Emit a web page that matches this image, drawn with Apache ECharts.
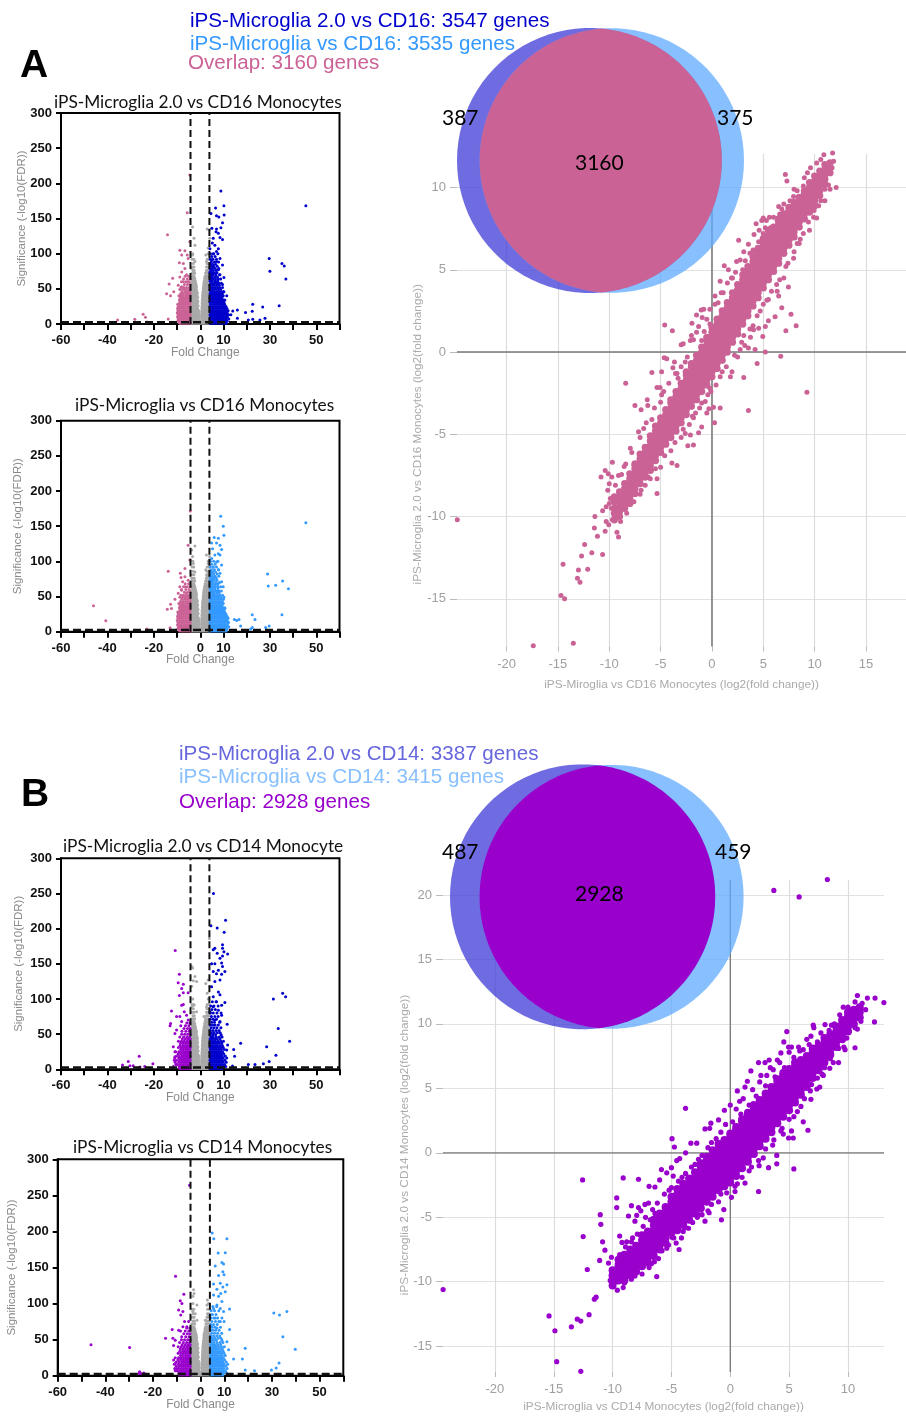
<!DOCTYPE html>
<html><head><meta charset="utf-8">
<style>html,body{margin:0;padding:0;background:#fff}#c{width:906px;height:1416px}</style>
<script src="https://cdn.jsdelivr.net/npm/echarts@6/dist/echarts.min.js"></script>
</head><body><div id="c"></div>
<script>
/* ---------- venn set sizes ---------- */
const vennCountsA = [387, 3160, 375];
const vennCountsB = [487, 2928, 459];
/* ---------- axis tick values ---------- */
const volcanoXTicks = [-60,-50,-40,-30,-20,-10,0,10,20,30,40,50,60];
const volcanoXLabels = [-60,-40,-20,0,10,30,50];
const volcanoYTicks = [0,50,100,150,200,250,300];
const scatterAX = [-20,-15,-10,-5,0,5,10,15];
const scatterAY = [-15,-10,-5,0,5,10];
const scatterBX = [-20,-15,-10,-5,0,5,10];
const scatterBY = [-15,-10,-5,0,5,10,15,20];
/* ---------- volcano dense clouds, rows of [y,[x...]] ---------- */
const grayRows = [
[1,[-3.8,-3.1,-2.4,-1.7,-1,-.4,.3,1,1.7,2.4,3.1,3.8]],[3,[-3.5,-2.8,-2.1,-1.4,-.7,-.2,.2,.7,1.4,2.1,2.8,3.5]],
[5,[-3.8,-3.1,-2.4,-1.7,-1,-.4,.4,1,1.7,2.4,3.1,3.8]],[8,[-3.5,-2.8,-2.1,-1.4,-.7,.6,1.4,2.1,2.8,3.5]],
[11,[-3.8,-3.1,-2.4,-1.7,-1,-.5,.5,1,1.7,2.4,3.1,3.8]],[14,[-3.5,-2.8,-2.1,-1.4,-.7,.6,1.4,2.1,2.8,3.5]],
[17,[-3.8,-3.1,-2.4,-1.7,-1.1,-.6,.6,1.1,1.7,2.4,3.1,3.8]],[20,[-3.5,-2.8,-2.1,-1.4,-.8,.7,1.4,2.1,2.8,3.5]],
[23,[-3.8,-3.1,-2.4,-1.7,-1.2,.7,1.2,1.7,2.4,3.1,3.8]],[26,[-3.5,-2.8,-2.1,-1.5,-.9,.8,1.5,2.1,2.8,3.5]],
[29,[-3.8,-3.1,-2.4,-1.8,-1.2,.8,1.2,1.8,2.4,3.1,3.8]],[32,[-3.5,-2.8,-2.1,-1.6,-1,.9,1.6,2.1,2.8,3.5]],
[35,[-3.8,-3.1,-2.4,-1.8,-1.3,.9,1.3,1.8,2.4,3.1,3.8]],[38,[-3.5,-2.8,-2.2,-1.7,-1.1,1,1.6,2.2,2.8,3.5]],
[41,[-3.8,-3.1,-2.5,-1.9,-1.4,1,1.4,1.9,2.5,3.1,3.8]],[44,[-3.5,-2.8,-2.2,-1.7,-1.2,1.1,1.7,2.2,2.8,3.5]],
[47,[-3.8,-3.1,-2.5,-2,-1.5,1.2,1.6,2.1,2.6,3.2,3.8]],[50,[-3.5,-2.8,-2.2,-1.7,1.3,1.8,2.4,3,3.6]],
[53,[-3.7,-3.1,-2.5,-2,-1.6,1.4,1.9,2.5,3.1,3.8]],[56,[-3.4,-2.8,-2.2,-1.8,1.5,2.1,2.7,3.3,3.9]],
[59,[-3.7,-3.1,-2.5,-2,1.6,2.2,2.8,3.4]],[62,[-3.4,-2.8,-2.2,1.8,2.4,3,3.6]],[65,[-3.7,-3,-2.4,1.9,2.5,3.1,3.8]],
[68,[-3.3,-2.7,2.1,2.6,3.2,3.8]],[72,[-3.6,-2.9,-2.4,2.3,2.8,3.5]],[76,[-3.1,-2.6,2.6,3,3.7]],[81,[-3.4,-2.7,2.7,3.2,3.9]],
[86,[-3,3.5,2.9]],[92,[-3.5,-2.8,3,3.8]],[100,[-3.2,3.4]]];
const upRowsA = [
[1,[4.2,5,5.9,6.8,7.7,8.6,9.5,10.3,11.2]],[4,[4.4,5.3,6.2,7.1,8,8.9,9.8,10.7,11.6]],
[7,[4.2,5,5.9,6.8,7.7,8.6,9.5,10.4,11.3,12.3]],[10,[4.4,5.3,6.2,7.1,8,8.9,9.8,10.7,11.7]],
[13,[4.2,5,5.9,6.8,7.7,8.6,9.5,10.4,11.3,12.2]],[16,[4.4,5.3,6.2,7.1,8,8.9,9.8,10.7,11.6]],
[19,[4.2,5,5.9,6.8,7.7,8.6,9.5,10.4,11.2,12]],[22,[4.4,5.3,6.2,7.1,8,8.9,9.8,10.7,11.5]],
[25,[4.2,5,5.9,6.8,7.7,8.6,9.5,10.3,11.1]],[28,[4.4,5.3,6.2,7.1,8,8.9,9.7,10.5]],
[31,[4.2,5,5.9,6.8,7.7,8.6,9.4,10.2]],[34,[4.4,5.3,6.2,7.1,8,8.9,9.8,10.6]],
[37,[4.2,5,5.9,6.8,7.7,8.6,9.4]],[40,[4.4,5.3,6.2,7.1,8,8.9,9.9]],
[43,[4.2,5,5.9,6.8,7.7,8.5,9.5]],[46,[4.4,5.3,6.2,7.2,8.2,9.2,10]],
[49,[4.2,5,6,7,7.9,8.8]],[52,[4.4,5.4,6.4,7.4,8.4,9.6]],
[55,[4.2,5,6,7.1,8.2]],[58,[4.5,5.4,6.3,7.3,8,9.1]],[61,[4.2,5.2,6.3,7.6]],[64,[4.6,5.5,6.6,7.8,8.8]],
[67,[4.2,5.1,6.2,7.4]],[70,[4.5,5.4,6.7,8.3]],[73,[4.2,5,6,7.2]],[76,[4.6,5.6,6.9]],[79,[4.2,5.2,6.4,8]],
[82,[4.7,5.8,7.3]],[85,[4.3,5.3,6.6]],[88,[4.8,6.1,7.9]],[92,[4.3,5.5,7]],[96,[4.9,6.4]],[100,[4.4,5.8,7.6]]];
const downRowsA = [
[1,[-4.3,-5.2,-6.1,-7,-7.9,-8.8]],[4,[-4.5,-5.4,-6.3,-7.2,-8.1,-9,-9.7]],
[7,[-4.3,-5.2,-6.1,-7,-7.9,-8.8,-9.5]],[10,[-4.5,-5.4,-6.3,-7.2,-8.1,-9,-9.8]],
[13,[-4.3,-5.2,-6.1,-7,-7.9,-8.8,-9.6]],[16,[-4.5,-5.4,-6.3,-7.2,-8.1,-9,-9.9]],
[19,[-4.3,-5.2,-6.1,-7,-7.9,-8.8,-9.6]],[22,[-4.5,-5.4,-6.3,-7.2,-8.1,-9,-9.8]],
[25,[-4.3,-5.2,-6.1,-7,-7.9,-8.8,-9.5]],[28,[-4.5,-5.4,-6.3,-7.2,-8.1,-9,-9.7]],
[31,[-4.3,-5.2,-6.1,-7,-7.9,-8.8]],[34,[-4.5,-5.4,-6.3,-7.2,-8.1,-9]],
[37,[-4.3,-5.2,-6.1,-7,-7.9,-8.7]],[40,[-4.5,-5.4,-6.3,-7.3,-8.3,-9.2]],
[43,[-4.3,-5.3,-6.3,-7.4,-8.5]],[46,[-4.6,-5.6,-6.7,-7.9]],[49,[-4.3,-5.3,-6.4,-7.6,-8.8]],[52,[-4.7,-5.9,-7.1,-8.3]],
[56,[-4.4,-5.5,-6.8]],[60,[-4.8,-6.2,-8.1]],[64,[-4.4,-5.6,-7.2]],[68,[-5,-6.5]]];
const upRowsB = [
[1,[4.2,5,5.9,6.8,7.7,8.6,9.4]],[4,[4.4,5.3,6.2,7.1,8,8.9,9.9,11]],
[7,[4.2,5,5.9,6.8,7.7,8.6,9.5,10.5]],[10,[4.4,5.3,6.2,7.1,8,8.9,9.8,11.2]],
[13,[4.2,5,5.9,6.8,7.7,8.6,9.5,10.6]],[16,[4.4,5.3,6.2,7.1,8,8.9,9.9,11.4]],
[19,[4.2,5,5.9,6.8,7.7,8.6,9.5,10.8]],[22,[4.4,5.3,6.2,7.1,8,9,10.1]],
[25,[4.2,5,5.9,6.8,7.7,8.6,9.6]],[28,[4.4,5.3,6.2,7.1,8.1,9.1,10.4]],
[31,[4.2,5,5.9,6.8,7.8,8.8,9.9]],[34,[4.4,5.3,6.3,7.3,8.4,9.5]],
[37,[4.2,5.1,6,7,8,9.2]],[40,[4.5,5.5,6.5,7.6,8.8,10]],[43,[4.2,5.2,6.2,7.3,8.5]],
[46,[4.6,5.6,6.9,8.2,9.4]],[49,[4.3,5.4,6.6,9]],[52,[4.8,6,7.4,8.6]],[55,[4.3,5.5,6.8,8.1]],
[59,[4.7,5.9,7.2,8.9]],[63,[4.3,5.3,6.4,7.8]],[67,[4.9,6.1,8.4]],[71,[4.3,5.5,7]],[75,[4.8,6.3,7.7]],[80,[4.4,5.6,7.2,9]],[85,[5,6.5]],[90,[4.5,5.9,7.7]],[96,[5.2,6.8]]];
const downRowsB = [
[1,[-4.3,-5.2,-6.1,-7,-7.9,-8.8]],[4,[-4.5,-5.4,-6.3,-7.2,-8.1,-9.1]],
[7,[-4.3,-5.2,-6.1,-7,-7.9,-8.8,-9.9]],[10,[-4.5,-5.4,-6.3,-7.2,-8.1,-9.2,-10.8]],
[13,[-4.3,-5.2,-6.1,-7,-7.9,-8.9,-10.2]],[16,[-4.5,-5.4,-6.3,-7.2,-8.2,-9.3,-11]],
[19,[-4.3,-5.2,-6.1,-7,-7.9,-9,-10.2]],[22,[-4.5,-5.4,-6.3,-7.2,-8.3,-9.5]],
[25,[-4.3,-5.2,-6.1,-7.1,-8.1,-9.2,-10.6]],[28,[-4.5,-5.4,-6.3,-7.3,-8.4]],
[31,[-4.3,-5.2,-6.2,-7.2,-8.2,-9.4]],[34,[-4.5,-5.5,-6.5,-7.5,-8.7]],
[37,[-4.3,-5.3,-6.3,-7.4,-8.5]],[40,[-4.6,-5.7,-6.9,-8.1,-9.4]],
[43,[-4.3,-5.2,-6.4,-7.7]],[46,[-4.6,-5.8,-7.2,-8.8]],[50,[-4.3,-5.4,-6.7,-8]],[54,[-4.8,-6.2,-7.9]],[58,[-4.4,-5.5,-7]],[62,[-4.9,-6.4,-8.4]],[66,[-4.5,-5.8]]];
/* ---------- volcano sparse marks, [fold change, significance] ---------- */
const up1 = [[45.5,168],[29.7,93],[30,75],[35.2,86],[36.2,82.5],[36.9,64],[34,26],[27.9,8],[26.9,24],[22.6,28],[22.4,18],[19.5,16.5],[22.6,6.6],[20.7,5.7],[25.7,5.7],[16,20],[16,8],[14,18.5],[13.2,13],[11.4,10.4],[8.9,189],[10.2,168],[6.6,165],[4.6,157],[10.3,155],[8,152],[7,154],[9.6,144],[5,136],[8.9,137],[7,135],[6.8,131],[7.8,129],[5.6,122],[8.5,123],[9.6,120],[5.2,115],[6.3,112],[7.8,107],[4.2,107],[5.6,100],[7,103],[8.5,93],[4.9,91],[7,89],[9.6,84],[5.6,81.5],[7.8,77],[4.2,74],[6.3,72],[8.5,70],[10.2,66],[4.9,62.5],[7,60],[9.6,56],[10.2,46],[11.4,40]];
const down1 = [[-4.5,212],[-5.6,158],[-14.1,127],[-8.8,105],[-6.6,104],[-5.6,98],[-8,98],[-5.2,93],[-9,87],[-7.3,86],[-11.9,65],[-13.4,57],[-14.5,43],[-11.4,46],[-12.8,40],[-4.5,117],[-35.6,5.7],[-28.2,6.6],[-24.6,14],[-23.6,9.5],[-13.8,7],[-23,3],[-8,74],[-6.6,79],[-8.8,67],[-7.3,60],[-5.9,70],[-9.5,55],[-5.2,60],[-8,53]];
const gray1 = [[-3.3,138],[-2.7,122],[-2.3,112],[-3.3,98],[3,135],[3.9,134],[4.1,122],[3.4,108],[2.4,98],[-2.3,89],[2.7,89],[-3.7,79],[3.7,74]];
const up2 = [[45.5,155],[29,82],[29.3,65],[32.5,66],[35.5,72],[38,61],[35.2,24],[29.7,8],[28.2,6],[23.6,17.5],[22.4,24],[22.4,6],[21.7,4],[17.4,8],[16.7,17.5],[14.7,17.5],[15.7,16],[11.4,16],[8.8,164],[9.9,150],[10.2,137],[6,134],[7.8,133],[4.9,126],[7,126],[8.5,123],[9.2,117],[5.3,118],[7.8,111],[6.3,109],[8.5,109],[4.9,104],[7,99],[9.2,95],[5.6,92],[7.8,88],[4.5,85],[8.5,83],[6.3,78],[9.2,71],[4.9,71],[7.8,69],[9.9,64],[5.6,64],[10.2,49],[10.6,33]];
const down2 = [[-46,37],[-40.7,15.6],[-23,4],[-13,5.7],[-13.8,86],[-12.8,39],[-14.2,32],[-12.4,33],[-8.3,77],[-6.6,90],[-8.6,83],[-10.9,46],[-5.2,123],[-4.5,102],[-4.3,171.5],[-6.6,78],[-7.6,71],[-8.8,64],[-8,59],[-6.6,64],[-5.2,73],[-9.5,54.5],[-7.3,52],[-5.9,54.5]];
const gray2 = [[-2.3,122],[-3,97],[-3.3,107],[-3.7,116],[2.7,109],[3.4,97],[2.4,88],[4,107],[3,78],[-2.3,85],[-3.7,76],[3.9,92]];
const up3 = [[5.7,250],[10.9,212],[4.6,204],[7.3,201],[10.3,195],[9.6,177],[9.6,172],[6.3,172],[10.2,167],[11.8,164],[7.3,165],[5.6,170],[8.5,158],[9.6,161],[4.9,150],[6.3,150],[9.2,151],[9.6,146],[7.8,141],[10.6,139],[7,136],[9.2,135],[5.6,139],[8.5,127],[6.3,125],[4.9,117.5],[7.8,110],[8.5,106],[5.6,103],[7,96],[10.6,95],[9.2,91],[5.6,89],[7.8,84],[4.2,82],[9.2,77],[6.3,70],[8.5,68],[11.6,64],[35.5,108],[36.8,103],[31.5,100],[33.6,58],[38.5,40],[28.6,32],[32.6,20],[29.7,11],[27.2,8],[23.6,7],[20.7,7],[17.4,37],[14.4,28],[14.8,18.5],[13.9,4.7],[11.4,27.5],[11.8,34.6]];
const down3 = [[-10.8,169],[-9,135],[-9.5,123],[-7.3,121],[-8,115],[-5.2,109],[-9,105],[-7.3,109],[-12.4,83],[-8,91],[-7.3,92],[-12.8,65],[-13,62],[-10.2,75],[-6.9,82],[-8.8,75],[-10.9,51],[-10.2,56],[-8,68],[-5.9,77],[-5.2,70],[-11.6,32],[-10.9,25],[-10.9,18],[-11.2,13],[-11.6,4],[-10.5,7],[-26.3,18.5],[-31,11],[-33.5,6],[-30.3,5],[-28.9,5],[-26,3.3],[-23.9,4],[-20.4,8]];
const gray3 = [[-3.7,146],[-3.3,144],[-2.3,132],[-3,126],[-1.6,125],[-3.7,118],[2.4,122],[3.4,127],[4.2,118],[3,108],[3.9,186],[-3.7,89],[-2.7,91],[-1.6,82],[2.7,89],[1.6,75],[2.4,70]];
const up4 = [[4.9,198],[5.6,190],[11.1,190],[7.4,170],[10.4,170.5],[9,157],[9.7,155],[6.2,152],[9.4,144],[9.9,140],[7.6,139],[5.5,127],[8.3,128],[11.1,126],[9.4,123],[6.9,120],[8.5,114],[10.4,116.5],[5.5,112],[7.6,110],[9,103],[6.9,98],[5.5,93],[8.3,93],[12.2,92.5],[4.1,84],[9.7,89],[6.2,80],[8.3,75],[9.9,75],[12.2,64],[4.8,68],[6.9,66],[11.1,47],[11.8,36],[30.8,87],[33.2,84],[36.3,89],[34.6,54],[39.8,36.5],[33,17.6],[31.8,10.6],[29.8,8],[22.7,7],[18.8,8],[18.8,38],[17.6,23],[13.9,23]];
const down4 = [[-4.6,264],[-10.5,138],[-7,113],[-7.8,100],[-8.5,104],[-9.2,91],[-7.4,89],[-8.3,84],[-11.9,64],[-14.7,52],[-6.7,75],[-5,75],[-7.4,68],[-9.2,63],[-11.6,52],[-10.6,49],[-11.3,42],[-46,43],[-29.8,39],[-25.6,5.5],[-25,3],[-23.8,3.7],[-25.9,3],[-11.3,21.7],[-10.6,17],[-9.9,10],[-10.6,7],[-5.7,68]];
const gray4 = [[-2.9,119],[-3.2,110],[-2.7,114],[-1.5,98],[3.8,158],[2.9,105],[2.7,98],[2,77],[-1.5,77],[-3.2,89],[-2.2,86],[3.4,84]];
const dashLeft = [[-4.2,0],[-4.2,300]];
const dashRight = [[3.95,0],[3.95,300]];
const dashFloor = [[-60,2.5],[60,2.5]];
/* ---------- log2 scatter dense bands, rows of [x,[y...]] ---------- */
const bandA = [
[-9.5,[-10.2,-9.8,-9.5,-9.1,-8.8]],[-9,[-10,-9.7,-9.4,-9.1,-8.8,-8.5]],[-8.5,[-9.5,-9.2,-8.9,-8.6,-8.3,-8]],
[-8,[-9.2,-8.9,-8.6,-8.3,-8,-7.7,-7.4]],[-7.5,[-8.6,-8.3,-8,-7.7,-7.4,-7.1,-6.8]],[-7,[-8,-7.7,-7.4,-7.1,-6.8,-6.5,-6.2]],
[-6.5,[-7.6,-7.3,-7,-6.7,-6.4,-6.1,-5.8]],[-6,[-7.2,-6.9,-6.6,-6.3,-6,-5.7,-5.4,-5.1]],[-5.5,[-6.6,-6.3,-6,-5.7,-5.4,-5.1,-4.8,-4.5]],
[-5,[-6.1,-5.8,-5.5,-5.2,-4.9,-4.6,-4.3,-4]],[-4.5,[-5.6,-5.3,-5,-4.7,-4.4,-4.1,-3.8,-3.5]],[-4,[-5.2,-4.9,-4.6,-4.3,-4,-3.7,-3.4,-3.1,-2.9]],
[-3.5,[-4.8,-4.5,-4.2,-3.9,-3.6,-3.3,-3,-2.7,-2.4]],[-3,[-4.3,-4,-3.7,-3.4,-3.1,-2.8,-2.5,-2.2,-1.9]],[-2.5,[-3.8,-3.5,-3.2,-2.9,-2.6,-2.3,-2,-1.7,-1.4,-1.2]],
[-2,[-3.3,-3,-2.7,-2.4,-2.1,-1.8,-1.5,-1.2,-.9,-.7]],[-1.5,[-2.9,-2.6,-2.3,-2,-1.7,-1.4,-1.1,-.8,-.5,-.2]],[-1,[-2.4,-2.1,-1.8,-1.5,-1.2,-.9,-.6,-.3,0,.3]],
[-.5,[-2,-1.7,-1.4,-1.1,-.8,-.5,-.2,.1,.4,.7,.9]],[0,[-1.5,-1.2,-.9,-.6,-.3,0,.3,.6,.9,1.2,1.5]],[.5,[-1,-.7,-.4,-.1,.2,.5,.8,1.1,1.4,1.7,2]],
[1,[-.5,-.2,.1,.4,.7,1,1.3,1.6,1.9,2.2,2.5]],[1.5,[0,.3,.6,.9,1.2,1.5,1.8,2.1,2.4,2.7,3]],[2,[.6,.9,1.2,1.5,1.8,2.1,2.4,2.7,3,3.3,3.6]],
[2.5,[1.1,1.4,1.7,2,2.3,2.6,2.9,3.2,3.5,3.8,4.1]],[3,[1.7,2,2.3,2.6,2.9,3.2,3.5,3.8,4.1,4.4,4.7]],[3.5,[2.2,2.5,2.8,3.1,3.4,3.7,4,4.3,4.6,4.9,5.2]],
[4,[2.8,3.1,3.4,3.7,4,4.3,4.6,4.9,5.2,5.5,5.8]],[4.5,[3.3,3.6,3.9,4.2,4.5,4.8,5.1,5.4,5.7,6,6.3]],[5,[3.9,4.2,4.5,4.8,5.1,5.4,5.7,6,6.3,6.6,6.9]],
[5.5,[4.4,4.7,5,5.3,5.6,5.9,6.2,6.5,6.8,7.1,7.4]],[6,[4.9,5.2,5.5,5.8,6.1,6.4,6.7,7,7.3,7.6]],[6.5,[5.4,5.7,6,6.3,6.6,6.9,7.2,7.5,7.8,8.1]],
[7,[6,6.3,6.6,6.9,7.2,7.5,7.8,8.1,8.4]],[7.5,[6.5,6.8,7.1,7.4,7.7,8,8.3,8.6,8.8]],[8,[7,7.3,7.6,7.9,8.2,8.5,8.8,9.1]],
[8.5,[7.6,7.9,8.2,8.5,8.8,9.1,9.4]],[9,[8.1,8.4,8.7,9,9.3,9.6,9.8]],[9.5,[8.5,8.8,9.1,9.4,9.7,10,10.3]],
[10,[8.9,9.2,9.5,9.8,10.1,10.4,10.7]],[10.5,[9.5,9.8,10.1,10.4,10.7,11]],[11,[10.2,10.5,10.8,11.1,11.4]],[11.5,[10.9,11.2,11.5]]];
const outA = [[-24.8,-10.2],[-17.4,-17.85],[-13.5,-17.7],[-14.7,-14.8],[-14.35,-15],[-14.5,-12.9],[-13,-13.25],[-12.1,-13.2],[-13.1,-13.75],[-12.85,-14],[-12.7,-12.4],[-12.4,-11.7],[-11.7,-12.2],[-10.65,-12.3],[-11.15,-11.2],[-11.45,-10.7],[-10.4,-10.9],[-11.4,-10],[-9.25,-10.95],[-9.1,-11.25],[-10.05,-10.5],[-10.3,-10.3],[-10.65,-9.65],[-10,-9.2],[-10.15,-8.4],[-10.8,-7.6],[-10.4,-7.2],[-10.1,-7.4],[-9.75,-7.6],[-9.7,-6.7],[-8.8,-7.45],[-8.55,-6.95],[-7.95,-5.85],[-7.5,-3.25],[-6.9,-3.5],[-6.3,-2.9],[-6.25,-3.25],[-8.4,-1.9],[-5.85,-1.25],[-4.9,-1.2],[-5.35,-2.15],[-5.05,-2.15],[-4.65,-.35],[-4.4,-.4],[-3.65,-.6],[-3.8,-.95],[-3.55,-1.3],[-4.6,1.65],[-3.85,1.3],[-3,.45],[-2.8,.5],[-2.1,.7],[-1.95,1.75],[-1.5,2.25],[-1.05,2.55],[-.95,2.1],[-.5,2],[-1.3,1.55],[-.75,1.25],[-1.8,.75],[-1,.7],[.3,3.4],[.8,4.3],[1.2,5.25],[1.6,5],[2.3,4.85],[2.6,6.8],[3.55,6.55],[4.1,7.15],[2.75,5.6],[3.25,5.55],[4.85,8],[5,8.15],[5.6,8.2],[5.2,7.55],[5.7,7.55],[6.15,7.65],[7.15,10.8],[7.3,10.4],[6.5,8.85],[6.8,8.7],[4.05,6.15],[4.55,6.7],[6.35,8],[7.95,9.45],[8.9,10.1],[9.6,11.2],[10.9,12],[11.75,12.1],[11.85,11.6],[11.7,11.2],[11.35,10.15],[11,9.9],[11.5,9.9],[12.1,10],[10.6,9.2],[9.95,8.6],[10.2,8.15],[9.9,8.2],[9.5,7.4],[8.6,6.85],[8.3,6.6],[7.95,5.7],[7.45,3.95],[7.7,2.3],[8.2,1.6],[7.2,1.3],[6.15,2.15],[6.8,2.7],[5.5,1.9],[5.2,1.55],[4.95,.95],[5.2,0],[6.7,-.25],[4.4,-.7],[4.2,.15],[3.55,.25],[3.75,.9],[3.1,-1.55],[1.8,-1.5],[1.95,-1.2],[9.25,-2.45],[3.55,-3.55],[.8,-3.4],[.25,-4.3],[-.3,-3.45],[-.5,-3.7],[.15,-3.35],[-.1,-2.4],[-1,-4.55],[-1.3,-4.9],[-1.8,-5.65],[-2.35,-5.7],[-3.4,-6.9],[-3.9,-6.75],[-5.35,-7.7],[-5.35,-8.6],[-6.5,-8.1],[-7,-8.65],[-2.1,-5.05],[-2.6,-4.95],[-1.8,-4],[-1.6,-3.7],[-.65,-3],[7,4.5],[6.35,3.7],[6.5,3.4],[5.35,3.15],[4.55,1.45],[4.05,1.35],[3.1,1],[2.75,.15],[-7.6,-6.9],[-7.15,-4.85],[-6.65,-4.65],[-5.85,-4.1],[-5,-3.05],[-4.7,-2.4],[-8.1,-7.85],[-9.8,-9.5],[-9.5,-10],[-3,-.9],[-2.6,-.6],[-3.3,-1.6],[-2,1],[-1.5,1.2],[-.2,2.6],[.3,2.9],[.9,3.6],[1.5,4.2],[2,4.5],[3,5],[4,6.2],[5,7.2],[6,8.2],[7,9],[8,9.9],[9,10.6],[2.5,-.3],[3.2,.4],[4,1.6],[4.7,2.5],[5.5,3.2],[6.3,4.1],[7.2,5.2],[8.5,6.6],[1,-1.2],[.4,-2],[-.4,-2.6],[-1.2,-3.4],[-2.2,-4.4],[-3,-5.2],[-4,-6],[-5,-7],[-6,-7.7],
[1.1,3.6],[1.9,4.5],[2.4,5.5],[3.1,6.1],[3.7,6],[4.6,7.4],[4.3,7.8],[5.3,8],[6.6,8.4],[7.6,9.2],[8.3,9.8],[9.3,10.9],[10.2,11.5],[10.6,11.7],[-.8,2.6],[-.2,1.7],[.6,3],[-2.4,-.3],[-3.4,-1.3],[-4.2,-1.9],[-4.9,-2.6],[-5.6,-3.4],[-6.4,-4.3],[-7,-5.2],[-7.8,-6.1],[-8.4,-6.8],[-9.1,-7.5],[-9.4,-8.1],[-10,-8],[-9.9,-8.9],[-10.3,-9.4],[-9.7,-10.2],[-8.9,-10.3],[-8.3,-9.8],[-7.6,-9.1],[-6.9,-8.4],[-6.2,-7.6],[-5.5,-7.1],[-4.6,-6.3],[-3.6,-5.5],[-2.8,-4.7],[-1.9,-3.9],[-1,-3.1],[-.2,-2.2],[.8,-1.5],[1.4,-.9],[2.2,-.2],[2.9,.6],[3.7,1.4],[4.4,2.2],[5,2.9],[5.8,3.7],[6.6,4.4],[7.4,5.4],[8,6.1],[8.9,7.2],[9.4,7.9],[10.4,8.9],[11,9.2]];
const bandB = [
[-10,[-10.3,-9.9,-9.5,-9.1]],[-9.5,[-9.9,-9.5,-9.1,-8.7,-8.3]],[-9,[-9.9,-9.5,-9.1,-8.7,-8.3,-7.9]],
[-8.5,[-9.5,-9.1,-8.7,-8.3,-7.9,-7.5]],[-8,[-9.2,-8.8,-8.4,-8,-7.6,-7.2]],[-7.5,[-8.8,-8.4,-8,-7.6,-7.2,-6.8,-6.4]],
[-7,[-8.5,-8.1,-7.7,-7.3,-6.9,-6.5,-6.1]],[-6.5,[-8,-7.6,-7.2,-6.8,-6.4,-6,-5.6,-5.2]],[-6,[-7.5,-7.1,-6.7,-6.3,-5.9,-5.5,-5.1,-4.7]],
[-5.5,[-7,-6.6,-6.2,-5.8,-5.4,-5,-4.6,-4.2]],[-5,[-6.2,-5.8,-5.4,-5,-4.6,-4.2,-3.8,-3.4]],[-4.5,[-6,-5.6,-5.2,-4.8,-4.4,-4,-3.6,-3.2,-2.8]],
[-4,[-5.6,-5.2,-4.8,-4.4,-4,-3.6,-3.2,-2.8,-2.4]],[-3.5,[-5.2,-4.8,-4.4,-4,-3.6,-3.2,-2.8,-2.4,-2]],[-3,[-4.7,-4.3,-3.9,-3.5,-3.1,-2.7,-2.3,-1.9,-1.5]],
[-2.5,[-4.3,-3.9,-3.5,-3.1,-2.7,-2.3,-1.9,-1.5,-1.1,-.8]],[-2,[-3.8,-3.4,-3,-2.6,-2.2,-1.8,-1.4,-1,-.6,-.3]],[-1.5,[-3.4,-3,-2.6,-2.2,-1.8,-1.4,-1,-.6,-.2,.2]],
[-1,[-2.9,-2.5,-2.1,-1.7,-1.3,-.9,-.5,-.1,.3,.7]],[-.5,[-2.6,-2.2,-1.8,-1.4,-1,-.6,-.2,.2,.6,1]],[0,[-2.3,-1.9,-1.5,-1.1,-.7,-.3,.1,.5,.9,1.3,1.5]],
[.5,[-1.8,-1.4,-1,-.6,-.2,.2,.6,1,1.4,1.8,2]],[1,[-1.2,-.8,-.4,0,.4,.8,1.2,1.6,2,2.4,2.6]],[1.5,[-.7,-.3,.1,.5,.9,1.3,1.7,2.1,2.5,2.9,3.1]],
[2,[-.1,.3,.7,1.1,1.5,1.9,2.3,2.7,3.1,3.5,3.7]],[2.5,[.5,.9,1.3,1.7,2.1,2.5,2.9,3.3,3.7,4.1]],[3,[1.1,1.5,1.9,2.3,2.7,3.1,3.5,3.9,4.3,4.6]],
[3.5,[1.6,2,2.4,2.8,3.2,3.6,4,4.4,4.8,5.1]],[4,[2.3,2.7,3.1,3.5,3.9,4.3,4.7,5.1,5.5,5.7]],[4.5,[2.8,3.2,3.6,4,4.4,4.8,5.2,5.6,6,6.2]],
[5,[3.3,3.7,4.1,4.5,4.9,5.3,5.7,6.1,6.5]],[5.5,[3.9,4.3,4.7,5.1,5.5,5.9,6.3,6.7,7]],[6,[4.5,4.9,5.3,5.7,6.1,6.5,6.9,7.2]],
[6.5,[5.1,5.5,5.9,6.3,6.7,7.1,7.5]],[7,[5.8,6.2,6.6,7,7.4,7.8,8.1]],[7.5,[6.4,6.8,7.2,7.6,8,8.3]],
[8,[7,7.4,7.8,8.2,8.6,8.9]],[8.5,[7.6,8,8.4,8.8,9.2]],[9,[8.2,8.6,9,9.4,9.8]],
[9.5,[8.8,9.2,9.6,10,10.3]],[10,[9.4,9.8,10.2,10.6,10.9]],[10.5,[10,10.4,10.8,11.1]],[11,[10.5,10.9,11.3]]];
const outB = [[-24.4,-10.6],[-15.4,-12.65],[-14.9,-13.8],[-14.75,-16.2],[-12.7,-16.95],[-13.5,-13.5],[-13,-12.9],[-12.7,-13.05],[-12,-12.55],[-11.55,-11.35],[-11.4,-11.2],[-12.15,-9.05],[-11.1,-8.35],[-10.65,-7.55],[-10.85,-6.9],[-12.5,-6.5],[-11,-5.55],[-11.05,-4.8],[-9.65,-4.25],[-9.65,-3.5],[-12.55,-2.1],[-9.1,-1.95],[-7.8,-2.05],[-8.4,-4.1],[-8.65,-4.9],[-7.8,-4.25],[-7.6,-4.5],[-7.95,-4.85],[-8.1,-5.3],[-7.25,-4],[-6.95,-3.9],[-6.9,-2.6],[-6.4,-2.65],[-5.85,-1.3],[-4.95,1.1],[-4.75,.45],[-3.8,3.45],[-3.8,0],[-3.35,.75],[-2.85,.75],[-4.55,-.6],[-4.3,-.45],[-5,-1.15],[-5.4,-1.55],[-4.85,-1.8],[-6,-2.1],[-2.15,1.85],[-1.75,1.9],[-1.65,2.3],[-1,2.55],[-.5,3.3],[0,3.7],[.6,4.8],[.8,4],[1.25,5.1],[1.45,5.55],[2.5,5.5],[1.75,6.35],[2.4,7],[2.95,7],[3.3,7.2],[3.1,6],[3.65,6.45],[4.3,7.75],[4.8,9.4],[4.55,8.6],[4.95,8.2],[5.2,8.2],[5.8,8.2],[4.2,7],[6.5,8.8],[6.85,9.05],[7.05,9.9],[7.1,9.7],[8.05,9.95],[8.85,10],[8.2,8.9],[9.6,11.3],[10.8,12.2],[11.65,12],[12.3,12],[13.05,11.65],[12.25,10.15],[10.6,8.15],[10.8,9.6],[9.65,8.2],[9.75,8],[9.2,7],[8.75,7],[8.45,6.55],[7.9,6],[7.6,5.1],[7.35,4.95],[6.85,4.15],[6.2,2.4],[6.6,1.75],[5.35,1.15],[4.95,1.15],[4.5,1.45],[5.2,1.7],[5.4,-1.25],[3.95,-.85],[3.95,-.2],[3.25,-1.15],[2.4,-3],[2.45,-1],[1.25,-2.35],[.4,-3],[.1,-3.45],[-.55,-4.4],[-.75,-5.2],[-2.15,-5.3],[-1.8,-4.65],[-2.7,-4.8],[-3.55,-5.85],[-4.15,-6.6],[-4.35,-7.5],[-4.95,-6.55],[-5.25,-7.15],[-6.25,-9.6],[-6.45,-8.45],[-8.1,-9.55],[-9.1,-10.45],[-9.6,-10.65],[-9.95,-10.3],[-9.65,-10],[-10.2,-9.9],[-10.1,-9.6],[-10.35,-8.55],[-10.1,-8.1],[-9.4,-6.45],[-9.2,-6.95],[-8.8,-6.9],[-8.3,-6.6],[-9.4,-7.9],[3.7,20.35],[5.85,19.85],[8.25,21.2],[-7.2,-5],[-6.6,-4.4],[-6.2,-3.9],[-5.6,-3.2],[-5,-2.7],[-4.4,-2.2],[-3.8,-1.6],[-3,-.9],[-2.4,-.2],[-1.6,.8],[-.8,1.6],[.2,2.4],[.9,3],[1.6,3.7],[2.2,4.4],[3,5.2],[3.8,5.9],[4.6,6.6],[5.4,7.4],[6.2,8],[7.4,8.6],[8.4,9.5],[-6.7,-8.6],[-5.8,-7.6],[-4.8,-6.6],[-3.8,-5.8],[-2.8,-5],[-1.6,-4],[-.8,-3.2],[.6,-2.4],[1.6,-1.4],[2.8,-.4],[3.6,.6],[4.4,1.9],[5.4,2.8],[6,3.6],[6.8,4.8],[7.8,6.1],
[-8.9,-7.3],[-8.4,-6.9],[-7.9,-6.3],[-7.4,-5.7],[-6.8,-5.2],[-6.4,-4.7],[-5.2,-2.9],[-4.1,-1.9],[-3.3,-1.1],[-2.7,-.5],[-1.9,.4],[-1.2,1.1],[-.4,2.2],[.5,3.4],[1.1,4.2],[1.9,4.9],[2.6,6],[3.4,6.6],[4,7.2],[5,7.8],[5.9,7.9],[6.7,8.4],[7.7,9.3],[8.6,9.9],[9.3,10.7],[10,11.3],[10.6,11.7],[11.2,11.6],[11.5,11.1],[11.1,10.2],[10.6,9.7],[9.9,8.9],[9.2,8.1],[8.5,7.3],[8,6.6],[7.4,5.8],[6.9,5.3],[6.3,4.2],[5.7,3.2],[5,2.6],[4.3,1.7],[3.7,1],[3,.3],[2.4,-.6],[1.8,-1.1],[1,-1.9],[.4,-2.6],[-.3,-3.1],[-1,-3.8],[-1.9,-4.5],[-2.4,-4.8],[-3.2,-5.4],[-4,-6.1],[-4.6,-7],[-5.4,-7.4],[-6.1,-8.2],[-6.9,-8.9],[-7.5,-9.4],[-8.4,-9.8],[-9,-10.1]];
/* ---------- helpers building marks from the arrays ---------- */
const fromRowsY = rows => rows.flatMap(([y,xs]) => xs.map(x => [x,y]));
const fromRowsX = rows => rows.flatMap(([x,ys]) => ys.map(y => [x,y]));
const PINK='#CB6296', PURPLE='#9900CC', BLUE='#0000CC', SKY='#3399FF', GRAY='#A9A9A9';
const SANS='"Liberation Sans",Arial,sans-serif', HUM='Lato,"Noto Sans",sans-serif';

const grids=[],xAxes=[],yAxes=[],series=[];
function volcano(box,xName,yName,upCol,downCol,grayPts,upPts,downPts,yGap,xPad){
  const i=grids.length;
  grids.push({left:box[0],top:box[1],width:box[2],height:box[3],show:true,borderColor:'#000',borderWidth:2,backgroundColor:'transparent'});
  xAxes.push({gridIndex:i,type:'value',min:-60,max:60,interval:10,splitLine:{show:false},
    axisLine:{show:true,onZero:false,lineStyle:{color:'#000',width:2}},
    axisTick:{show:true,length:6,inside:false,lineStyle:{color:'#000',width:2},customValues:volcanoXTicks},
    axisLabel:{customValues:volcanoXLabels,color:'#111',fontFamily:SANS,fontWeight:'bold',fontSize:13,margin:10,hideOverlap:false},
    name:xName,nameLocation:'middle',nameGap:box[4],nameMoveOverlap:false,nameTextStyle:{color:'#8a8a8a',fontFamily:SANS,fontSize:12,padding:[0,0,0,xPad]}});
  yAxes.push({gridIndex:i,type:'value',min:0,max:300,interval:50,splitLine:{show:false},
    axisLine:{show:true,onZero:false,lineStyle:{color:'#000',width:2}},
    axisTick:{show:true,length:5,lineStyle:{color:'#000',width:2},customValues:volcanoYTicks},
    axisLabel:{customValues:volcanoYTicks,color:'#111',fontFamily:SANS,fontWeight:'bold',fontSize:13,margin:9},
    name:yName,nameLocation:'middle',nameGap:yGap,nameRotate:90,nameMoveOverlap:false,nameTextStyle:{color:'#8a8a8a',fontFamily:SANS,fontSize:11.5}});
  const sc=(d,c)=>({type:'scatter',xAxisIndex:i,yAxisIndex:i,data:d,symbolSize:3,itemStyle:{color:c,opacity:1},silent:true,clip:false,z:2,large:false});
  const ln=(d,w,dash)=>({type:'line',xAxisIndex:i,yAxisIndex:i,data:d,symbol:'none',silent:true,z:3,lineStyle:{color:'#111',width:w,type:dash},clip:true});
  series.push(sc(grayPts,GRAY),sc(upPts,upCol),sc(downPts,downCol),ln(dashLeft,2,[7,4]),ln(dashRight,2,[7,4]),ln(dashFloor,2.5,[8,4]));
}
function scatterPanel(box,xr,yr,xT,yT,xName,yName,col,bandPts,outPts,bandSize,size,yPad,nameGap,xGap,lw){
  const i=grids.length;
  grids.push({left:box[0],top:box[1],width:box[2],height:box[3]});
  xAxes.push({gridIndex:i,type:'value',min:xr[0],max:xr[1],axisLine:{show:false,onZero:false},
    splitLine:{show:true,customValues:xT,lineStyle:{color:'#dcdcdc',width:1.2}},
    axisTick:{show:true,length:5,customValues:xT,lineStyle:{color:'#bbb'}},
    axisLabel:{customValues:xT,color:'#a0a0a0',fontFamily:SANS,fontSize:13,margin:11},
    name:xName,nameLocation:'middle',nameGap:xGap,nameMoveOverlap:false,nameTextStyle:{color:'#aaaaaa',fontFamily:SANS,fontSize:11.8}});
  yAxes.push({gridIndex:i,type:'value',min:yr[0],max:yr[1],axisLine:{show:false,onZero:false},
    splitLine:{show:true,customValues:yT,lineStyle:{color:'#e2e2e2',width:1.2}},
    axisTick:{show:true,length:7,customValues:yT,lineStyle:{color:'#bbb'}},
    axisLabel:{customValues:yT,color:'#a0a0a0',fontFamily:SANS,fontSize:13,margin:11},
    name:yName,nameLocation:'middle',nameGap:nameGap,nameRotate:90,nameMoveOverlap:false,nameTextStyle:{color:'#aaaaaa',fontFamily:SANS,fontSize:11.8,padding:[0,yPad,0,0]}});
  const zl=d=>({type:'line',xAxisIndex:i,yAxisIndex:i,data:d,symbol:'none',silent:true,z:1,lineStyle:{color:'#777',width:lw}});
  series.push(zl([[xr[0],0],[xr[1],0]]),zl([[0,yr[0]],[0,yr[1]]]));
  series.push({type:'scatter',xAxisIndex:i,yAxisIndex:i,data:bandPts,symbolSize:bandSize,itemStyle:{color:col,opacity:1},silent:true,clip:false,z:2});
  series.push({type:'scatter',xAxisIndex:i,yAxisIndex:i,data:outPts,symbolSize:size,itemStyle:{color:col,opacity:1},silent:true,clip:false,z:2});
}
/* proportional two-circle venn: area = genes, distance solved from the overlap */
function lensArea(r1,r2,d){
  const a=r1*r1*Math.acos((d*d+r1*r1-r2*r2)/(2*d*r1));
  const b=r2*r2*Math.acos((d*d+r2*r2-r1*r1)/(2*d*r2));
  const c=.5*Math.sqrt((-d+r1+r2)*(d+r1-r2)*(d-r1+r2)*(d+r1+r2));
  return a+b-c;
}
function venn(box,counts,lensColor){
  const i=grids.length;
  const r1=Math.sqrt((counts[0]+counts[1])/Math.PI), r2=Math.sqrt((counts[1]+counts[2])/Math.PI);
  let lo=Math.abs(r1-r2)+1e-6,hi=r1+r2;
  for(let k=0;k<60;k++){const m=(lo+hi)/2; if(lensArea(r1,r2,m)>counts[1])lo=m;else hi=m;}
  const d=(lo+hi)/2, R=Math.max(r1,r2);
  grids.push({left:box[0],top:box[1],width:box[2],height:box[3]});
  xAxes.push({gridIndex:i,type:'value',min:-r1,max:d+r2,show:false,splitLine:{show:false}});
  yAxes.push({gridIndex:i,type:'value',min:-R,max:R,show:false,splitLine:{show:false}});
  series.push({type:'custom',xAxisIndex:i,yAxisIndex:i,silent:true,z:4,clip:false,data:[[0,0,r1,d,r2]],
    renderItem(p,api){
      const r=api.value(2),dd=api.value(3),s=api.value(4);
      const arc=(cx,rad,a0,a1)=>{const o=[];for(let t=0;t<=90;t++){const a=a0+(a1-a0)*t/90;o.push(api.coord([cx+rad*Math.cos(a),rad*Math.sin(a)]));}return o;};
      const xm=(dd*dd+r*r-s*s)/(2*dd), h=Math.sqrt(r*r-xm*xm);
      const aL=Math.atan2(h,xm), aR=Math.atan2(h,xm-dd);
      return {type:'group',children:[
        {type:'polygon',shape:{points:arc(0,r,0,2*Math.PI)},style:{fill:'rgba(63,57,213,.75)'}},
        {type:'polygon',shape:{points:arc(dd,s,0,2*Math.PI)},style:{fill:'rgba(96,171,255,.75)'}},
        {type:'polygon',shape:{points:arc(0,r,-aL,aL).concat(arc(dd,s,aR,2*Math.PI-aR))},style:{fill:lensColor}}
      ]};
    }});
}
const XA='iPS-Miroglia vs CD16 Monocytes (log2(fold change))',YA='iPS-Microglia 2.0 vs CD16 Monocytes (log2(fold change))';
const XB='iPS-Microglia vs CD14 Monocytes (log2(fold change))',YB='iPS-Microglia 2.0 vs CD14 Monocytes (log2(fold change))';
const SIG='Significance (-log10(FDR))', FC='Fold Change';
const grayBase=fromRowsY(grayRows), upA=fromRowsY(upRowsA), dnA=fromRowsY(downRowsA), upB=fromRowsY(upRowsB), dnB=fromRowsY(downRowsB);
volcano([61,113,278.5,211,23],FC,SIG,BLUE,PINK,grayBase.concat(gray1),upA.concat(up1),dnA.concat(down1),33,10);
volcano([61,420.7,278.5,211,22],FC,SIG,SKY,PINK,grayBase.concat(gray2),upA.concat(up2),dnA.concat(down2),37,0);
volcano([61,858.3,278.5,211,22],FC,SIG,BLUE,PURPLE,grayBase.concat(gray3),upB.concat(up3),dnB.concat(down3),36,0);
volcano([57.7,1159.3,285.6,216.4,23],FC,SIG,SKY,PURPLE,grayBase.concat(gray4),upB.concat(up4),dnB.concat(down4),40,0);
scatterPanel([457,154,449,492.5],[-24.83,18.9],[-17.9,12.04],scatterAX,scatterAY,XA,YA,PINK,fromRowsX(bandA),outA,7.2,5,68,33,32,1.5);
scatterPanel([443,880,441,492],[-24.41,13.06],[-17,21.16],scatterBX,scatterBY,XB,YB,PURPLE,fromRowsX(bandB),outB,8,5.2,38,32,29,1.3);
venn([457,28,287,265],vennCountsA,'#CA6296');
venn([450,764.3,293.6,265],vennCountsB,'#9900CC');

const T=(text,x,y,size,color,fam,weight,anchor)=>({text,left:x,top:y,textAlign:anchor||'left',textVerticalAlign:'middle',padding:0,
  textStyle:{color,fontFamily:fam,fontSize:size,fontWeight:weight||'normal'}});
const titles=[
 T('A',20,66,39,'#000',SANS,'bold'),T('B',21,795,39,'#000',SANS,'bold'),
 T('iPS-Microglia 2.0 vs CD16: 3547 genes',190,21,20.6,'#0000CC',SANS),
 T('iPS-Microglia vs CD16: 3535 genes',190,44,20.6,'#3399FF',SANS),
 T('Overlap: 3160 genes',188,63,20.6,'#CB6296',SANS),
 T('iPS-Microglia 2.0 vs CD14: 3387 genes',179,754,20.6,'#6666DD',SANS),
 T('iPS-Microglia vs CD14: 3415 genes',179,777,20.6,'#88C0FF',SANS),
 T('Overlap: 2928 genes',179,802,20.6,'#9900CC',SANS),
 T('iPS-Microglia 2.0 vs CD16 Monocytes',54,102,17.3,'#111',HUM),
 T('iPS-Microglia vs CD16 Monocytes',75,405,17.3,'#111',HUM),
 T('iPS-Microglia 2.0 vs CD14 Monocyte',63,846,17.3,'#111',HUM),
 T('iPS-Microglia vs CD14 Monocytes',73,1147,17.3,'#111',HUM),
 T(String(vennCountsA[0]),442,118,21,'#000',HUM),T(String(vennCountsA[2]),717,118,21,'#000',HUM),T(String(vennCountsA[1]),575,163,21,'#000',HUM),
 T(String(vennCountsB[0]),442,852,21,'#000',HUM),T(String(vennCountsB[2]),715,852,21,'#000',HUM),T(String(vennCountsB[1]),575,894,21,'#000',HUM)
];
echarts.init(document.getElementById('c'),null,{renderer:'canvas'}).setOption({
  animation:false,backgroundColor:'#fff',tooltip:{show:false},legend:{show:false},
  title:titles,grid:grids,xAxis:xAxes,yAxis:yAxes,series
});
</script></body></html>
